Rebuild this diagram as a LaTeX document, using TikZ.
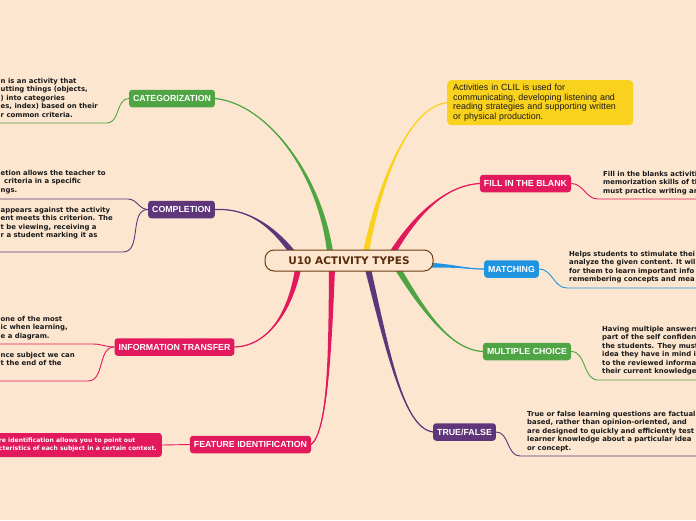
\documentclass[tikz,border=0pt]{standalone}
\usepackage{fontspec}
\setmainfont{Liberation Sans}
\newfontfamily\notefont{DejaVu Sans}
\usetikzlibrary{calc}

\pgfdeclarelayer{back}
\pgfsetlayers{back,main}

\definecolor{paper}{HTML}{FDE6CF}
\definecolor{rootline}{HTML}{6B3C14}
\definecolor{roottext}{HTML}{5A2E0E}
\definecolor{leafgreen}{HTML}{4FA544}
\definecolor{plum}{HTML}{5E3679}
\definecolor{rose}{HTML}{E2195D}
\definecolor{sky}{HTML}{1F95E2}
\definecolor{sun}{HTML}{F9D21E}
\definecolor{ink}{HTML}{1A1A1A}

\tikzset{
  root/.style={draw=rootline, line width=1pt, fill=paper, rounded corners=9pt,
    minimum width=168pt, minimum height=21pt, text=roottext,
    font=\notefont\bfseries\fontsize{10.5}{12}\selectfont},
  topic/.style={rounded corners=3pt, text=white, inner xsep=4pt, inner ysep=0pt,
    minimum height=17.5pt, font=\bfseries\fontsize{8.8}{10}\selectfont},
  note/.style={anchor=north west, align=left, inner sep=0pt, text=ink,
    font=\notefont\bfseries\fontsize{6.9}{8.5}\selectfont},
  twig/.style={line width=0.9pt},
}

% tapered branch: colour, start, control 1, control 2, end
\newcommand\limb[5]{%
  \fill[#1] ($(#2)!3pt!90:(#3)$) .. controls ($(#3)!1.6pt!-90:(#2)$) and (#4) .. (#5)
    .. controls (#4) and ($(#3)!1.6pt!90:(#2)$) .. ($(#2)!3pt!-90:(#3)$) -- cycle;
  \draw[#1, line width=1.2pt] (#2) .. controls (#3) and (#4) .. (#5);}

\begin{document}
\begin{tikzpicture}[x=1pt, y=-1pt]
  \useasboundingbox (0,0) rectangle (696,520);
  \clip (0,0) rectangle (696,520);

  \node[root] (root) at (349,260.5) {U10 ACTIVITY TYPES};

  % topics, left
  \node[topic, fill=leafgreen] (cat) at (172,98.5) {CATEGORIZATION};
  \node[topic, fill=plum] (comp) at (181.5,209.5) {COMPLETION};
  \node[topic, fill=rose] (info) at (174.5,347) {INFORMATION TRANSFER};
  \node[topic, fill=rose] (feat) at (250.5,444.5) {FEATURE IDENTIFICATION};
  % topics, right
  \node[topic, fill=rose] (fill) at (525.5,183.5) {FILL IN THE BLANK};
  \node[topic, fill=sky] (match) at (511.5,269) {MATCHING};
  \node[topic, fill=leafgreen] (multi) at (527,351.5) {MULTIPLE CHOICE};
  \node[topic, fill=plum] (tf) at (464.5,432) {TRUE/FALSE};

  \node[anchor=north west, fill=sun, rounded corners=4pt, minimum height=45pt,
    text width=174pt, inner xsep=6pt, align=left, text=ink,
    font=\fontsize{8.9}{9.4}\selectfont] (clil) at (447,80)
    {Activities in CLIL is used for\\communicating, developing listening and\\
     reading strategies and supporting written\\or physical production.};

  % notes
  \node[note] (catTxt) at (0.5,77.7) {n is an activity that\\utting things (objects,\\
    ) into categories\\es, index) based on their\\r common criteria.};
  \node[note] (compTxtA) at (0.5,169.7) {etion allows the teacher to\\
    \hspace*{3.5pt}criteria in a specific\\ngs.};
  \node[note] (compTxtB) at (0.5,206.7) {appears against the activity\\
    ent meets this criterion. The\\t be viewing, receiving a\\r a student marking it as};
  \node[note] (infoTxtA) at (0.5,315.7) {one of the most\\ic when learning,\\e a diagram.};
  \node[note] (infoTxtB) at (0.5,351.7) {nce subject we can\\t the end of the};
  \node[anchor=east, fill=rose, rounded corners=3pt, minimum height=24pt,
    inner xsep=5pt, align=left, text=white,
    font=\notefont\bfseries\fontsize{6.1}{8}\selectfont] (featTxt) at (162,445)
    {re identification allows you to point out\\
     cteristics of each subject in a certain context.};
  \node[note] (fillTxt) at (603,170.7) {Fill in the blanks activiti\\
    memorization skills of th\\must practice writing an};
  \node[note] (matchTxt) at (569,250.7) {Helps students to stimulate thei\\
    analyze the given content. It wil\\for them to learn important info\\
    remembering concepts and mea};
  \node[note] (multiTxt) at (602,325.7) {Having multiple answers\\
    part of the self confiden\\the students. They must\\idea they have in mind i\\
    to the reviewed informa\\their current knowledge};
  \node[note] (tfTxt) at (527,410.7) {True or false learning questions are factual\\
    based, rather than opinion-oriented, and\\are designed to quickly and efficiently test\\
    learner knowledge about a particular idea\\or concept.};

  \coordinate (L) at (0,0);
  \coordinate (R) at (696,0);
  \coordinate (s1) at (330,252);
  \coordinate (s2) at (292,252);
  \coordinate (s3) at (298,269);
  \coordinate (s4) at (332,269);
  \coordinate (s5) at (366,252);
  \coordinate (s6) at (393,252);
  \coordinate (s7) at (418,265);
  \coordinate (s8) at (398,269);
  \coordinate (s9) at (368,269);
  \coordinate (catU) at (107,123);
  \coordinate (compAU) at (128,199);
  \coordinate (compBU) at (123,252);
  \coordinate (infoAU) at (93,344);
  \coordinate (infoBU) at (88,381);
  \coordinate (fillU) at (598,199);
  \coordinate (matchU) at (567,288);
  \coordinate (multiU) at (598,380);
  \coordinate (tfU) at (520,456);

  \begin{pgfonlayer}{back}
    \fill[paper] (0,0) rectangle (696,520);
    \limb{leafgreen}{s1}{320,175}{268,104}{cat.east}
    \limb{plum}{s2}{272,226}{248,208}{comp.east}
    \limb{rose}{s3}{290,312}{268,346}{info.east}
    \limb{rose}{s4}{330,350}{328,430}{feat.east}
    \limb{sun}{s5}{380,180}{410,106}{clil.west}
    \limb{rose}{s6}{420,208}{450,185}{fill.west}
    \limb{sky}{s7}{455,265}{465,269}{match.west}
    \limb{leafgreen}{s8}{430,322}{455,350}{multi.west}
    \limb{plum}{s9}{390,362}{405,428}{tf.west}

    \draw[twig, leafgreen] (cat.west) to[out=180, in=0] (catU) -- (catU -| L);
    \draw[twig, plum] (comp.west) to[out=180, in=0] (compAU) -- (compAU -| L);
    \draw[twig, plum] (comp.west) to[out=180, in=0] (compBU) -- (compBU -| L);
    \draw[twig, rose] (info.west) to[out=180, in=0] (infoAU) -- (infoAU -| L);
    \draw[twig, rose] (info.west) to[out=180, in=0] (infoBU) -- (infoBU -| L);
    \draw[twig, rose] (feat.west) -- (featTxt.east);
    \draw[twig, rose] (fill.east) to[out=0, in=180] (fillU) -- (fillU -| R);
    \draw[twig, sky] (match.east) to[out=0, in=180] (matchU) -- (matchU -| R);
    \draw[twig, leafgreen] (multi.east) to[out=0, in=180] (multiU) -- (multiU -| R);
    \draw[twig, plum] (tf.east) to[out=0, in=180] (tfU) -- (tfU -| R);
  \end{pgfonlayer}
\end{tikzpicture}
\end{document}
